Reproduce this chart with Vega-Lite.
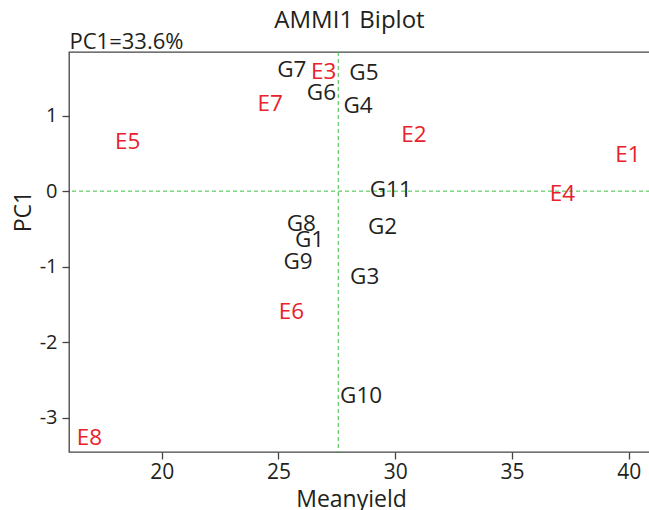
{
  "$schema": "https://vega.github.io/schema/vega-lite/v6.json",
  "width": 581,
  "height": 400,
  "autosize": {"type": "none"},
  "padding": {"left": 69, "top": 52, "right": 0, "bottom": 58},
  "background": "white",
  "config": {
    "view": {"stroke": "#444444", "strokeWidth": 1.3},
    "font": "Open Sans"
  },
  "title": {
    "text": "AMMI1 Biplot",
    "anchor": "middle",
    "dx": -10,
    "offset": -3,
    "fontSize": 24,
    "fontWeight": "normal",
    "font": "Open Sans",
    "color": "#231f20"
  },
  "datasets": {
    "points": [
      {"label": "G1", "type": "G", "meanyield": 26.33, "pc1": -0.65},
      {"label": "G2", "type": "G", "meanyield": 29.46, "pc1": -0.47},
      {"label": "G3", "type": "G", "meanyield": 28.69, "pc1": -1.14},
      {"label": "G4", "type": "G", "meanyield": 28.41, "pc1": 1.13},
      {"label": "G5", "type": "G", "meanyield": 28.66, "pc1": 1.56},
      {"label": "G6", "type": "G", "meanyield": 26.84, "pc1": 1.30},
      {"label": "G7", "type": "G", "meanyield": 25.57, "pc1": 1.60},
      {"label": "G8", "type": "G", "meanyield": 25.98, "pc1": -0.43},
      {"label": "G9", "type": "G", "meanyield": 25.84, "pc1": -0.935},
      {"label": "G10", "type": "G", "meanyield": 28.54, "pc1": -2.71},
      {"label": "G11", "type": "G", "meanyield": 29.81, "pc1": 0.013},
      {"label": "E1", "type": "E", "meanyield": 39.96, "pc1": 0.476},
      {"label": "E2", "type": "E", "meanyield": 30.80, "pc1": 0.74},
      {"label": "E3", "type": "E", "meanyield": 26.94, "pc1": 1.58},
      {"label": "E4", "type": "E", "meanyield": 37.16, "pc1": -0.044},
      {"label": "E5", "type": "E", "meanyield": 18.54, "pc1": 0.65},
      {"label": "E6", "type": "E", "meanyield": 25.56, "pc1": -1.60},
      {"label": "E7", "type": "E", "meanyield": 24.65, "pc1": 1.15},
      {"label": "E8", "type": "E", "meanyield": 16.91, "pc1": -3.27}
    ],
    "vref": [{"grandmean": 27.56}],
    "href": [{"zero": 0}]
  },
  "resolve": {"axis": {"x": "independent"}},
  "layer": [
    {
      "data": {"name": "vref"},
      "mark": {"type": "rule", "color": "#3cbf3c", "strokeDash": [4, 3], "strokeWidth": 1},
      "encoding": {
        "x": {
          "field": "grandmean",
          "type": "quantitative",
          "scale": {"domain": [16.03, 40.91], "nice": false, "zero": false},
          "axis": {
            "orient": "top",
            "labels": false,
            "ticks": false,
            "domain": false,
            "grid": false,
            "title": "PC1=33.6%",
            "titleFont": "Open Sans",
            "titleFontSize": 22,
            "titleFontWeight": "normal",
            "titleColor": "#231f20",
            "titleAngle": 0,
            "titleAlign": "left",
            "titleBaseline": "alphabetic",
            "titleX": 0,
            "titleY": -4
          }
        }
      }
    },
    {
      "data": {"name": "href"},
      "mark": {"type": "rule", "color": "#3cbf3c", "strokeDash": [4, 3], "strokeWidth": 1},
      "encoding": {
        "y": {"field": "zero", "type": "quantitative"}
      }
    },
    {
      "data": {"name": "points"},
      "mark": {"type": "text", "fontSize": 22.5, "align": "center", "baseline": "middle", "font": "Open Sans"},
      "encoding": {
        "x": {
          "field": "meanyield",
          "type": "quantitative",
          "scale": {"domain": [16.03, 40.91], "nice": false, "zero": false},
          "axis": {
            "orient": "bottom",
            "values": [20, 25, 30, 35, 40],
            "labelExpr": "toString(datum.value)",
            "grid": false,
            "domain": false,
            "tickColor": "#444444",
            "tickSize": 7,
            "tickWidth": 1.3,
            "labelFontSize": 21,
            "labelFont": "Open Sans",
            "labelColor": "#231f20",
            "labelPadding": 2,
            "title": "Meanyield",
            "titleFont": "Open Sans",
            "titleFontSize": 23,
            "titleFontWeight": "normal",
            "titleColor": "#231f20",
            "titleAnchor": "start",
            "titleAlign": "center",
            "titleBaseline": "alphabetic",
            "titleX": 282,
            "titleY": 54
          }
        },
        "y": {
          "field": "pc1",
          "type": "quantitative",
          "scale": {"domain": [-3.45, 1.84], "nice": false, "zero": false},
          "axis": {
            "values": [-3, -2, -1, 0, 1],
            "labelExpr": "toString(datum.value)",
            "grid": false,
            "domain": false,
            "tickColor": "#444444",
            "tickSize": 7,
            "tickWidth": 1.3,
            "labelFontSize": 20,
            "labelFont": "Open Sans",
            "labelColor": "#231f20",
            "labelPadding": 5,
            "title": "PC1",
            "titleFont": "Open Sans",
            "titleFontSize": 23,
            "titleFontWeight": "normal",
            "titleColor": "#231f20",
            "titleAngle": -90,
            "titleAnchor": "start",
            "titleAlign": "center",
            "titleBaseline": "middle",
            "titleX": -46,
            "titleY": 159
          }
        },
        "text": {"field": "label", "type": "nominal"},
        "color": {
          "field": "type",
          "type": "nominal",
          "scale": {"domain": ["G", "E"], "range": ["#231f20", "#e8212b"]},
          "legend": null
        }
      }
    }
  ]
}
